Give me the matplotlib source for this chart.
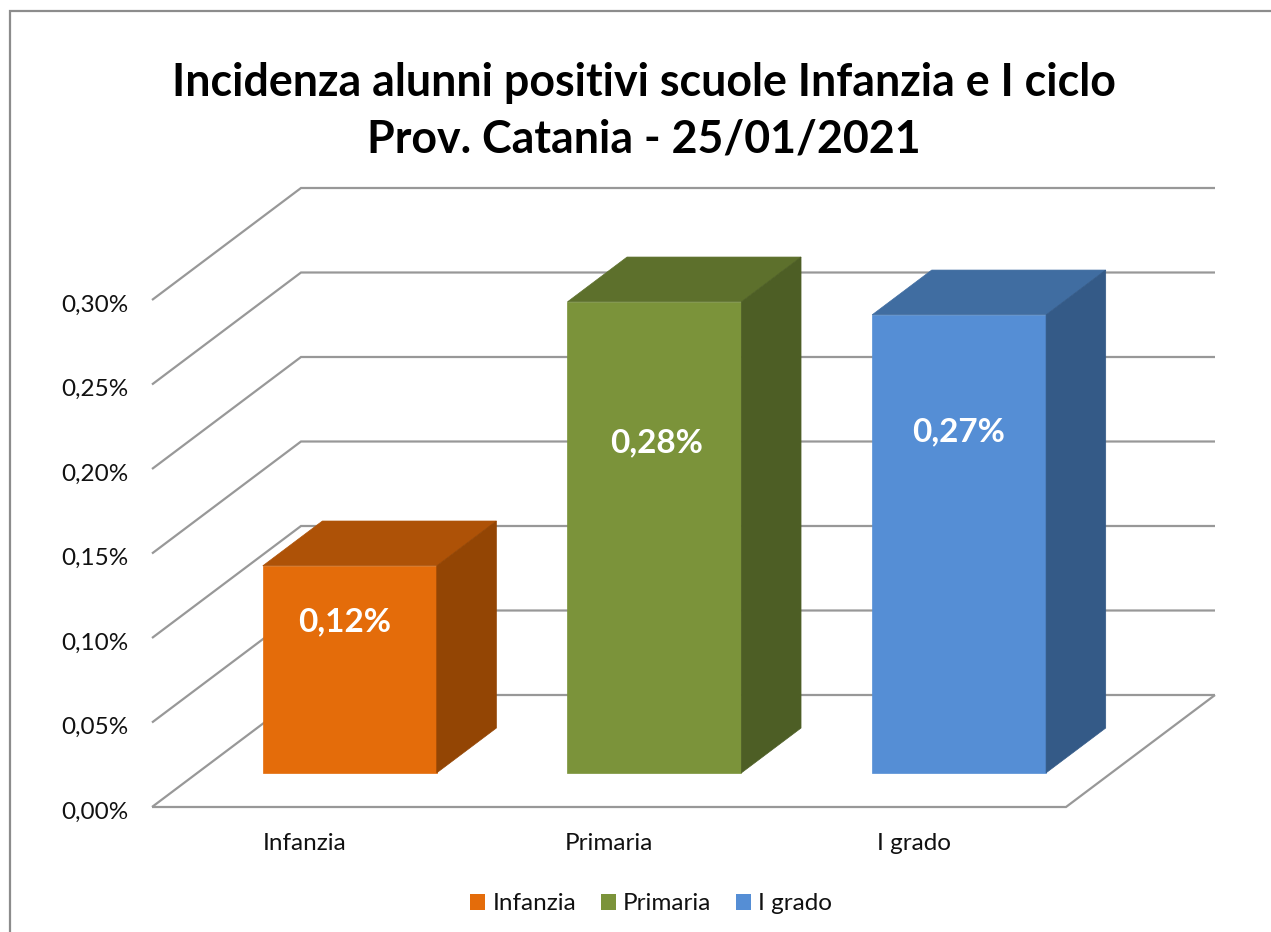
import matplotlib.pyplot as plt
from matplotlib.lines import Line2D
from matplotlib.patches import Patch
from matplotlib.transforms import Affine2D

plt.rcParams['font.family'] = ['Lato', 'DejaVu Sans']

# dati
categorie = ['Infanzia', 'Primaria', 'I grado']
valori = [0.1225, 0.2787, 0.2710]
tick_y = [0.00, 0.05, 0.10, 0.15, 0.20, 0.25, 0.30]
titolo = 'Incidenza alunni positivi scuole Infanzia e I ciclo\nProv. Catania - 25/01/2021'

# colori: fronte, sopra, lato
col_fronte = ['#E46C0A', '#7B933A', '#558ED5']
col_sopra = ['#AE5207', '#5D702C', '#406DA1']
col_lato = ['#934504', '#4D5E25', '#345A87']
col_griglia = '#989898'

W, H = 1271, 932
fig = plt.figure(figsize=(W / 100, H / 100), dpi=100)
# piano frontale del grafico, in pixel dell'immagine
L, R, T, B = 152, 1066, 300, 807
ax = fig.add_axes([L / W, 1 - B / H, (R - L) / W, (B - T) / H])
ax.set_xlim(0, 3)
ax.set_ylim(0, 0.30)
ax.autoscale(False)
ax.patch.set_alpha(0)

# finta prospettiva: profondita 1 = parete di fondo
px_x = (R - L) / 3
px_y = (B - T) / 0.30
DX = 149 / px_x
DY = 112 / px_y


def proj(x, v, d):
    return x + d * DX, v + d * DY


def linea(punti):
    xs, ys = zip(*[proj(*p) for p in punti])
    ax.plot(xs, ys, color=col_griglia, lw=1.6, clip_on=False, zorder=1,
            solid_capstyle='butt', solid_joinstyle='miter')


for v in tick_y:
    linea([(0, v, 0), (0, v, 1), (3, v, 1)])
linea([(0, 0, 0), (3, 0, 0), (3, 0, 1)])

# barre
larg = 0.571
d0, d1 = 0.305, 0.705
etichetta_frac = [0.73, 0.70, 0.745]
etichetta_dx = [-5, 2, -1]
for i, v in enumerate(valori):
    x0 = i + 0.5 - larg / 2
    x1 = i + 0.5 + larg / 2
    fx, fy = proj(x0, 0, d0)
    ax.bar(fx, v, width=larg, bottom=fy, align='edge', color=col_fronte[i],
           edgecolor=col_fronte[i], lw=0.5, zorder=3, clip_on=False)
    sopra = [proj(x0, v, d0), proj(x1, v, d0), proj(x1, v, d1), proj(x0, v, d1)]
    lato = [proj(x1, 0, d0), proj(x1, v, d0), proj(x1, v, d1), proj(x1, 0, d1)]
    ax.fill(*zip(*sopra), facecolor=col_sopra[i], edgecolor=col_sopra[i], lw=0.5,
            zorder=3, clip_on=False)
    ax.fill(*zip(*lato), facecolor=col_lato[i], edgecolor=col_lato[i], lw=0.5,
            zorder=3, clip_on=False)
    tx = fx + larg / 2 + etichetta_dx[i] / px_x
    ax.text(tx, fy + v * etichetta_frac[i], f'{v:.2f}%'.replace('.', ','),
            color='white', fontsize=24, fontweight='bold', ha='center',
            va='center', zorder=4)

# assi
for s in ax.spines.values():
    s.set_visible(False)
ax.set_xticks([i + 0.5 for i in range(3)], categorie)
ax.set_yticks(tick_y, [f'{v:.2f}%'.replace('.', ',') for v in tick_y])
ax.tick_params(axis='both', length=0, labelsize=17.5, labelcolor='#111111')
ax.tick_params(axis='y', pad=17)
ax.tick_params(axis='x', pad=18.5)
for lab in ax.get_yticklabels():
    lab.set_transform(lab.get_transform() + Affine2D().translate(0, -3))

# titolo
fig.text(644 / W, 1 - 111 / H, titolo, ha='center', va='center', fontsize=32.2,
         fontweight='bold', color='black', linespacing=1.44)

# legenda
maniglie = [Patch(facecolor=c, edgecolor='none') for c in col_fronte]
ax.legend(maniglie, categorie, ncol=3, loc='center', frameon=False,
          bbox_to_anchor=(651 / W, 1 - 904 / H), bbox_transform=fig.transFigure,
          fontsize=17.5, handlelength=0.62, handleheight=0.62, handletextpad=0.3,
          columnspacing=1.0, labelcolor='#111111')

# cornice del grafico (tagliata a destra e in basso)
fig.add_artist(Line2D([9.5 / W, 9.5 / W, 1], [0, 1 - 11 / H, 1 - 11 / H],
                      color='#8c8c8c', lw=1.6, solid_joinstyle='miter'))

fig.savefig('out.png', dpi=100)
